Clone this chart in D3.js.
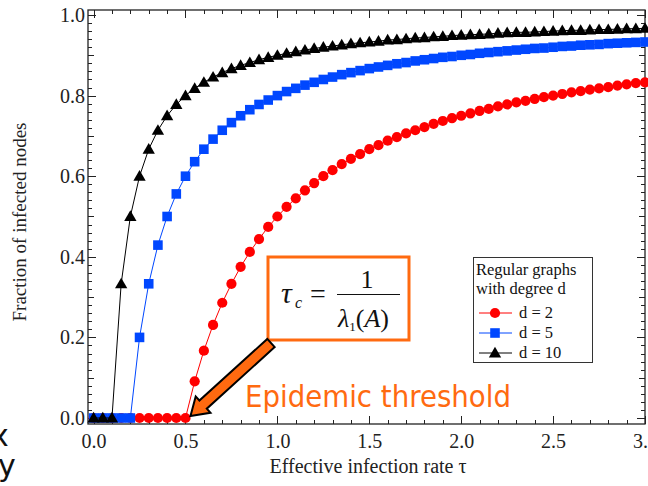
<!DOCTYPE html>
<html>
<head>
<meta charset="utf-8">
<script src="https://cdn.jsdelivr.net/npm/d3@7"></script>
<style>
  body { margin:0; background:#fff; overflow:hidden; }
  svg { display:block; font-family:"Liberation Serif", "Times New Roman", serif; }
</style>
</head>
<body>
<div id="canvas"></div>
<script>
// data
var tau = [0,0.05,0.1,0.15,0.2,0.25,0.3,0.35,0.4,0.45,0.5,0.55,0.6,0.65,0.7,0.75,0.8,0.85,0.9,0.95,
           1,1.05,1.1,1.15,1.2,1.25,1.3,1.35,1.4,1.45,1.5,1.55,1.6,1.65,1.7,1.75,1.8,1.85,1.9,1.95,
           2,2.05,2.1,2.15,2.2,2.25,2.3,2.35,2.4,2.45,2.5,2.55,2.6,2.65,2.7,2.75,2.8,2.85,2.9,2.95,3];

var deg2 = [0,0,0,0,0,0,0,0,0,0,0,0.091,0.167,0.231,0.286,0.333,0.375,0.412,0.444,0.474,
            0.5,0.524,0.545,0.565,0.583,0.6,0.615,0.63,0.643,0.655,0.667,0.677,0.688,0.697,0.706,0.714,0.722,0.73,0.737,0.744,
            0.75,0.756,0.762,0.767,0.773,0.778,0.783,0.787,0.792,0.796,0.8,0.804,0.808,0.811,0.815,0.818,0.821,0.825,0.828,0.831,0.833];

var deg5 = [0,0,0,0,0,0.2,0.333,0.429,0.5,0.556,0.6,0.636,0.667,0.692,0.714,0.733,0.75,0.765,0.778,0.789,
            0.8,0.81,0.818,0.826,0.833,0.84,0.846,0.852,0.857,0.862,0.867,0.871,0.875,0.879,0.882,0.886,0.889,0.892,0.895,0.897,
            0.9,0.902,0.905,0.907,0.909,0.911,0.913,0.915,0.917,0.918,0.92,0.922,0.923,0.925,0.926,0.927,0.929,0.93,0.931,0.932,0.933];

var deg10 = [0,0,0,0.333,0.5,0.6,0.667,0.714,0.75,0.778,0.8,0.818,0.833,0.846,0.857,0.867,0.875,0.882,0.889,0.895,
             0.9,0.905,0.909,0.913,0.917,0.92,0.923,0.926,0.929,0.931,0.933,0.935,0.938,0.939,0.941,0.943,0.944,0.946,0.947,0.949,
             0.95,0.951,0.952,0.953,0.955,0.956,0.957,0.957,0.958,0.959,0.96,0.961,0.962,0.962,0.963,0.964,0.964,0.965,0.966,0.966,0.967];

var seriesNames = ['d = 2','d = 5','d = 10'];
var seriesColors = ['#ff0000','#0047ff','#000000'];
var seriesSymbols = [d3.symbolCircle, d3.symbolSquare, d3.symbolTriangle];
var xTicks = [0,0.5,1,1.5,2,2.5,3];
var yTicks = [0,0.2,0.4,0.6,0.8,1];

var W = 648, H = 486;
var m = {t:10, r:3, b:62, l:88};

var svg = d3.select('#canvas').append('svg')
    .attr('width', W).attr('height', H);

var x = d3.scaleLinear().domain([-0.0304, 3.0]).range([m.l, W - m.r]);
var y = d3.scaleLinear().domain([-0.0149, 1.0124]).range([H - m.b, m.t]);

var series = [deg2, deg5, deg10].map(function(vals, i){
    return {name:seriesNames[i], color:seriesColors[i], symbol:seriesSymbols[i],
            points:tau.map(function(t, j){ return [t, vals[j]]; })};
});

function symSize(s){
    if (s === d3.symbolTriangle) return 66;
    if (s === d3.symbolSquare) return 92;
    return 82;
}

// frame
svg.append('rect')
    .attr('x', m.l).attr('y', m.t)
    .attr('width', W - m.r - m.l).attr('height', H - m.b - m.t)
    .attr('fill', 'none').attr('stroke', '#222').attr('stroke-width', 1.3);

// inward ticks on all four sides
var xMinor = d3.range(0, 31).map(function(i){ return i/10; });
var yMinor = d3.range(0, 51).map(function(i){ return i/50; });

function tickLenX(v){ return Math.abs(v*2 - Math.round(v*2)) < 1e-6 ? 8 : 4; }
function tickLenY(v){
    if (Math.abs(v*5 - Math.round(v*5)) < 1e-6) return 8;
    if (Math.abs(v*10 - Math.round(v*10)) < 1e-6) return 6;
    return 4;
}

var ticks = svg.append('g').attr('stroke', '#222').attr('stroke-width', 1);
xMinor.forEach(function(v){
    var px = Math.round(x(v)) + 0.5, L = tickLenX(v);
    ticks.append('line').attr('x1', px).attr('x2', px).attr('y1', H - m.b).attr('y2', H - m.b - L);
    ticks.append('line').attr('x1', px).attr('x2', px).attr('y1', m.t).attr('y2', m.t + L);
});
yMinor.forEach(function(v){
    var py = Math.round(y(v)) + 0.5, L = tickLenY(v);
    ticks.append('line').attr('y1', py).attr('y2', py).attr('x1', m.l).attr('x2', m.l + L);
    ticks.append('line').attr('y1', py).attr('y2', py).attr('x1', W - m.r).attr('x2', W - m.r - L);
});

// tick labels through the axis generators, tick marks hidden
var axisX = d3.axisBottom(x).tickValues(xTicks).tickFormat(d3.format('.1f')).tickSize(0).tickPadding(10);
var gx = svg.append('g').attr('transform', 'translate(0,' + (H - m.b) + ')').call(axisX);
gx.select('.domain').remove();
gx.selectAll('text').attr('font-family', '"Liberation Serif", serif').attr('font-size', 20).attr('fill', '#222');

var axisY = d3.axisLeft(y).tickValues(yTicks).tickFormat(d3.format('.1f')).tickSize(0).tickPadding(3);
var gy = svg.append('g').attr('transform', 'translate(' + m.l + ',0)').call(axisY);
gy.select('.domain').remove();
gy.selectAll('text').attr('font-family', '"Liberation Serif", serif').attr('font-size', 20).attr('fill', '#222');

// axis titles
svg.append('text')
    .attr('x', 368).attr('y', 473)
    .attr('text-anchor', 'middle').attr('font-size', 20).attr('fill', '#222')
    .text('Effective infection rate τ');

svg.append('text')
    .attr('transform', 'translate(26,222) rotate(-90)')
    .attr('text-anchor', 'middle').attr('font-size', 19).attr('fill', '#222')
    .text('Fraction of infected nodes');

// lines and markers
var line = d3.line().x(function(d){ return x(d[0]); }).y(function(d){ return y(d[1]); });

var plot = svg.append('g');
series.forEach(function(s){
    plot.append('path')
        .attr('d', line(s.points))
        .attr('fill', 'none').attr('stroke', s.color).attr('stroke-width', 1);
    var sym = d3.symbol().type(s.symbol).size(symSize(s.symbol));
    plot.selectAll(null)
        .data(s.points)
        .enter()
        .append('path')
        .attr('d', sym)
        .attr('transform', function(d){
            var dy = s.symbol === d3.symbolTriangle ? 1 : 0;
            return 'translate(' + x(d[0]) + ',' + (y(d[1]) + dy) + ')';
        })
        .attr('fill', s.color);
});

// legend
var lg = svg.append('g').attr('transform', 'translate(473,257)');
lg.append('rect').attr('x', 0.5).attr('y', 0.5).attr('width', 119).attr('height', 105)
    .attr('fill', '#fff').attr('stroke', '#333').attr('stroke-width', 1);
lg.append('text').attr('x', 3).attr('y', 18).attr('font-size', 16.5).attr('fill', '#111').text('Regular graphs');
lg.append('text').attr('x', 3).attr('y', 37).attr('font-size', 16.5).attr('fill', '#111').text('with degree d');
series.forEach(function(s, i){
    var yy = 56 + i*20;
    lg.append('line').attr('x1', 6).attr('x2', 39).attr('y1', yy).attr('y2', yy)
        .attr('stroke', s.color).attr('stroke-width', 1);
    lg.append('path')
        .attr('d', d3.symbol().type(s.symbol).size(symSize(s.symbol)))
        .attr('transform', 'translate(22,' + (yy + (s.symbol === d3.symbolTriangle ? 1 : 0)) + ')')
        .attr('fill', s.color);
    lg.append('text').attr('x', 46).attr('y', yy + 5).attr('font-size', 16.5).attr('fill', '#111').text(s.name);
});

// formula box
var orange = '#ff6a10';
var fb = svg.append('g');
fb.append('rect').attr('x', 268).attr('y', 257).attr('width', 141).attr('height', 83)
    .attr('fill', '#fff').attr('stroke', orange).attr('stroke-width', 3);
fb.append('text').attr('x', 281).attr('y', 303).attr('font-size', 30).attr('font-style', 'italic').attr('fill', '#111').text('τ');
fb.append('text').attr('x', 295).attr('y', 308).attr('font-size', 16).attr('font-style', 'italic').attr('fill', '#111').text('c');
fb.append('text').attr('x', 318).attr('y', 303).attr('font-size', 28).attr('text-anchor', 'middle').attr('fill', '#111').text('=');
fb.append('text').attr('x', 367).attr('y', 288).attr('font-size', 26).attr('text-anchor', 'middle').attr('fill', '#111').text('1');
fb.append('line').attr('x1', 337).attr('x2', 400).attr('y1', 294.5).attr('y2', 294.5).attr('stroke', '#111').attr('stroke-width', 1.2);
var den = fb.append('text').attr('x', 338).attr('y', 327).attr('font-size', 26).attr('fill', '#111');
den.append('tspan').attr('font-style', 'italic').text('λ');
den.append('tspan').attr('font-size', 13).attr('dy', 4).text('1');
den.append('tspan').attr('dy', -4).text('(');
den.append('tspan').attr('font-style', 'italic').text('A');
den.append('tspan').text(')');

// arrow from the box to the threshold
var tail = [271, 343], tip = [x(0.5) + 5, y(0) - 2];
var ang = Math.atan2(tip[1] - tail[1], tip[0] - tail[0]);
var len = Math.hypot(tip[0] - tail[0], tip[1] - tail[1]);
var hw = 5.5, headW = 11, headL = 17;
var arrowPts = [[0,-hw],[len-headL,-hw],[len-headL,-headW],[len,0],[len-headL,headW],[len-headL,hw],[0,hw]];
svg.append('path')
    .attr('d', 'M' + arrowPts.map(function(p){ return p.join(','); }).join('L') + 'Z')
    .attr('transform', 'translate(' + tail[0] + ',' + tail[1] + ') rotate(' + (ang*180/Math.PI) + ')')
    .attr('fill', orange).attr('stroke', '#000').attr('stroke-width', 2).attr('stroke-linejoin', 'miter');

svg.append('text')
    .attr('x', 245).attr('y', 407)
    .attr('font-family', '"DejaVu Sans", Verdana, sans-serif').attr('font-size', 30)
    .attr('textLength', 266).attr('lengthAdjust', 'spacingAndGlyphs')
    .attr('fill', orange).text('Epidemic threshold');

// slide text leaking in from the left edge
svg.append('text').attr('x', -9).attr('y', 446).attr('font-family', '"DejaVu Sans", sans-serif')
    .attr('font-size', 30).attr('fill', '#111').text('x');
svg.append('text').attr('x', -2).attr('y', 476).attr('font-family', '"DejaVu Sans", sans-serif')
    .attr('font-size', 30).attr('fill', '#111').text('y');
</script>
</body>
</html>
